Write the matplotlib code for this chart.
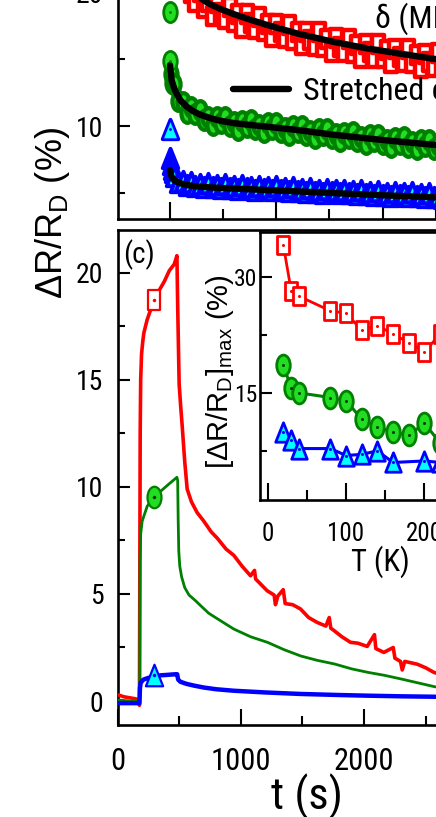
import numpy as np
import matplotlib
matplotlib.use("Agg")
import matplotlib.pyplot as plt
from matplotlib import font_manager
from matplotlib.path import Path
from matplotlib.lines import Line2D
from matplotlib.ticker import MultipleLocator

# the original figure is horizontally squeezed -> use an Arial-like narrow face if one is installed
rank = ['liberation', 'arial', 'roboto', 'noto', 'opensans', 'open', 'lato', 'inter']
narrow, best = None, len(rank)
for f in font_manager.fontManager.ttflist:
    fn = f.fname.lower().replace(' ', '')
    if f.style != 'normal' or f.weight not in (400, 'normal', 'regular'):
        continue
    if not ('narrow' in fn or 'condensed' in fn) or any(s in fn for s in ('semi', 'extra', 'ultra')):
        continue
    for i, key in enumerate(rank):
        if key in fn.split('/')[-1] and i < best:
            narrow, best = f, i
if narrow is not None:
    plt.rcParams['font.family'] = [narrow.name, 'Liberation Sans', 'DejaVu Sans']
    plt.rcParams['font.stretch'] = narrow.stretch
    FS = 1.0
else:
    plt.rcParams['font.family'] = ['Liberation Sans', 'DejaVu Sans']
    FS = 0.88
plt.rcParams['axes.linewidth'] = 1.9
# rotated labels are not squeezed along their length -> regular width face
ROT = dict(family=['Liberation Sans', 'DejaVu Sans'], stretch='normal')

W, H = 436, 817

# top panel: decay after light off (t' in s), data + stretched exponential fit
red_t = [0, 40, 80, 120, 160, 200, 240, 280, 320, 360, 400, 440, 480, 520, 560, 600, 640, 680, 720,
         760, 800, 840, 880, 920, 960, 1000, 1040, 1080, 1120, 1160, 1200, 1240, 1280, 1320, 1360,
         1400, 1440, 1480, 1520, 1560, 1600, 1640, 1680, 1720, 1760, 1800, 1840, 1880, 1920, 1960,
         2000, 2040, 2080, 2120, 2160, 2200, 2240, 2280, 2320, 2360, 2400, 2440, 2480, 2520, 2560, 2600]
red_dec = [34.0, 23.25, 22.4, 20.5, 20.9, 19.95, 19.25, 20.0, 18.8, 19.28, 18.2, 19.15, 18.47, 18.0,
           18.92, 17.8, 18.34, 17.33, 18.33, 17.67, 17.23, 18.17, 17.07, 17.63, 16.64, 17.65, 17.02,
           16.58, 17.55, 16.45, 17.0, 16.03, 17.05, 16.43, 16.0, 16.98, 15.9, 16.48, 15.5, 16.55,
           15.93, 15.52, 16.5, 15.44, 16.03, 15.07, 16.11, 15.51, 15.11, 16.11, 15.05, 15.65, 14.7,
           15.75, 15.15, 14.75, 15.75, 14.7, 15.3, 14.35, 15.4, 14.81, 14.42, 15.43, 14.39, 15.0]
gb_t = [0, 4, 10, 20, 30, 40, 80, 120, 160, 200, 240, 280, 320, 360, 400, 440, 480, 520, 560, 600,
        640, 680, 720, 760, 800, 840, 880, 920, 960, 1000, 1040, 1080, 1120, 1160, 1200, 1240, 1280,
        1320, 1360, 1400, 1440, 1480, 1520, 1560, 1600, 1640, 1680, 1720, 1760, 1800, 1840, 1880,
        1920, 1960, 2000, 2040, 2080, 2120, 2160, 2200, 2240, 2280, 2320, 2360, 2400, 2440, 2480,
        2520, 2560, 2600]
green_dec = [18.5, 14.85, 13.9, 13.2, 13.1, 13.15, 11.85, 11.8, 10.98, 11.45, 10.87, 11.21, 10.45,
             10.69, 10.1, 10.71, 10.24, 10.68, 9.97, 10.27, 9.73, 10.4, 9.96, 10.42, 9.74, 10.05, 9.52,
             10.19, 9.75, 10.22, 9.53, 9.85, 9.32, 9.98, 9.55, 10.01, 9.32, 9.63, 9.09, 9.75, 9.3,
             9.76, 9.07, 9.38, 8.85, 9.51, 9.08, 9.54, 8.86, 9.17, 8.64, 9.31, 8.87, 9.34, 8.66, 8.98,
             8.45, 9.11, 8.68, 9.15, 8.47, 8.79, 8.26, 8.93, 8.5, 8.97, 8.3, 8.62, 8.1, 8.77]
blue_dec = [9.8, 7.6, 7.2, 6.8, 6.55, 6.25, 5.83, 5.87, 5.6, 5.84, 5.56, 5.67, 5.45, 5.73, 5.46, 5.59,
            5.38, 5.66, 5.4, 5.53, 5.32, 5.6, 5.34, 5.48, 5.26, 5.55, 5.28, 5.42, 5.2, 5.49, 5.22, 5.36,
            5.15, 5.43, 5.17, 5.3, 5.09, 5.38, 5.11, 5.25, 5.03, 5.32, 5.06, 5.19, 4.98, 5.26, 5.0, 5.13,
            4.92, 5.2, 4.94, 5.07, 4.86, 5.15, 4.88, 5.02, 4.81, 5.1, 4.83, 4.97, 4.76, 5.05, 4.79,
            4.92, 4.71, 5.0, 4.73, 4.87, 4.66, 4.95]

fit_t = [0, 16, 40, 63, 100, 157, 220, 282, 376, 470, 600, 750, 910, 1200, 1537, 1850, 2164, 2477, 2800]
red_fit = [26.5, 25.0, 23.8, 22.9, 21.8, 20.6, 20.0, 19.55, 19.1, 18.75, 18.35, 17.95, 17.55, 16.9,
           16.28, 15.8, 15.4, 15.02, 14.7]
green_fit = [14.55, 13.4, 12.8, 12.4, 11.9, 11.45, 11.1, 10.85, 10.6, 10.4, 10.22, 10.08, 9.95, 9.7,
             9.35, 9.08, 8.83, 8.6, 8.4]
blue_fit = [6.7, 6.2, 5.95, 5.85, 5.72, 5.6, 5.52, 5.47, 5.42, 5.38, 5.33, 5.28, 5.22, 5.12, 5.0,
            4.88, 4.78, 4.68, 4.6]

# panel (c): time traces
trace_red_t = [0, 50, 100, 150, 170, 178, 181, 184, 188, 195, 205, 214, 240, 270, 300, 340, 380, 420,
               460, 482, 488, 495, 500, 512, 524, 545, 565, 600, 646, 700, 760, 810, 880, 944, 1010,
               1079, 1111, 1120, 1214, 1270, 1281, 1300, 1344, 1360, 1420, 1484, 1550, 1620, 1690,
               1717, 1730, 1754, 1820, 1890, 1950, 2025, 2084, 2095, 2160, 2236, 2250, 2295, 2309,
               2330, 2431, 2500, 2565, 2640, 2800, 3000]
trace_red = [0.3, 0.2, 0.15, 0.1, 0.0, -0.2, 6.0, 12.5, 15.0, 16.2, 16.8, 17.2, 17.8, 18.3, 18.7, 19.2,
             19.6, 20.1, 20.4, 20.8, 18.5, 16.3, 14.8, 13.8, 12.9, 11.2, 9.9, 9.3, 8.8, 8.4, 7.9, 7.6,
             7.1, 6.8, 6.3, 5.85, 6.1, 5.7, 5.15, 4.95, 4.5, 4.9, 5.2, 4.55, 4.5, 4.3, 3.9, 3.67, 3.5,
             3.9, 3.4, 3.3, 3.0, 2.74, 2.7, 2.55, 3.1, 2.45, 2.27, 2.5, 2.0, 1.85, 1.45, 1.85, 1.72,
             1.55, 1.34, 1.2, 1.05, 0.9]
trace_green_t = [0, 100, 175, 180, 183, 188, 200, 241, 300, 360, 420, 482, 488, 492, 497, 505, 520,
                 545, 580, 630, 675, 740, 808, 944, 1080, 1217, 1350, 1488, 1620, 1760, 1900, 2030,
                 2165, 2300, 2435, 2570, 2700, 3000]
trace_green = [0.05, 0.0, 0.0, 0.05, 6.5, 7.8, 8.4, 9.1, 9.55, 9.85, 10.15, 10.45, 10.3, 8.5, 7.0,
               6.3, 5.8, 5.3, 4.95, 4.7, 4.45, 4.1, 3.85, 3.36, 3.0, 2.74, 2.4, 2.1, 1.9, 1.73, 1.5,
               1.34, 1.2, 1.03, 0.85, 0.67, 0.55, 0.4]
trace_blue_t = [0, 100, 178, 182, 188, 210, 250, 300, 350, 400, 470, 484, 492, 510, 560, 620, 700,
                800, 944, 1200, 1484, 1800, 2025, 2300, 2565, 2700, 3000]
trace_blue = [-0.1, -0.1, -0.1, 0.6, 0.85, 1.0, 1.08, 1.15, 1.2, 1.22, 1.25, 1.25, 1.0, 0.9, 0.8,
              0.72, 0.63, 0.55, 0.48, 0.4, 0.33, 0.28, 0.25, 0.22, 0.2, 0.19, 0.17]
mark_t = [300]
mark_red = [18.75]
mark_green = [9.55]
mark_blue = [1.2]

# inset: max response vs temperature
T_red = [20, 30, 40, 80, 100, 120, 140, 160, 180, 200, 220]
max_red = [34.1, 28.2, 27.5, 25.6, 25.3, 23.1, 23.7, 22.6, 21.5, 20.3, 22.6]
T_green = [20, 30, 40, 80, 100, 120, 140, 160, 180, 200, 220]
max_green = [18.6, 15.6, 15.0, 14.4, 14.0, 11.6, 10.6, 9.9, 9.5, 11.1, 8.5]
T_blue = [20, 30, 40, 80, 100, 120, 140, 160, 200, 220]
max_blue = [10.0, 8.9, 7.8, 7.8, 6.9, 7.05, 7.5, 6.0, 6.2, 6.0]

RED, GREEN, BLUE = '#ff0000', '#008000', '#0000ff'
LGREEN, CYAN = '#22dd22', '#00ffff'

# squeezed marker shapes
circ = Path.unit_circle()
ELL = Path(circ.vertices * [0.65, 1.0], circ.codes)
SQR = Path([[-0.65, -1], [0.65, -1], [0.65, 1], [-0.65, 1], [-0.65, -1]], closed=True)
TRI = Path([[0, 1], [-0.8, -1], [0.8, -1], [0, 1]], closed=True)


def fr(x0, y0, x1, y1):
    # pixel box (top-left origin) -> figure fraction [l, b, w, h]
    return [x0 / W, 1 - y1 / H, (x1 - x0) / W, (y1 - y0) / H]


def style_ticks(ax, xl=17, xs=10, yl=12, ys=7):
    ax.tick_params(which='both', direction='in', width=1.5, top=False, right=False)
    ax.tick_params(axis='x', which='major', length=xl * 0.72)
    ax.tick_params(axis='x', which='minor', length=xs * 0.72)
    ax.tick_params(axis='y', which='major', length=yl * 0.72)
    ax.tick_params(axis='y', which='minor', length=ys * 0.72)


def dots(ax, x, y, color, ms=2.5):
    ax.plot(x, y, 'o', ms=ms, color=color, mec='none', zorder=6)


fig = plt.figure(figsize=(W / 100, H / 100), dpi=100)

# ---- top panel
ax1 = fig.add_axes(fr(118, -70, 600, 219))
ax1.set_xlim(-489, 4045)
ax1.set_ylim(3.06, 24.63)
ax1.plot(red_t, red_dec, ls='none', marker=SQR, ms=13.5, mfc='white', mec=RED, mew=3.2, zorder=2)
ax1.plot(gb_t, green_dec, ls='none', marker=ELL, ms=13.5, mfc=LGREEN, mec=GREEN, mew=3.0, zorder=2)
ax1.plot(gb_t, blue_dec, ls='none', marker=TRI, ms=14, mfc=CYAN, mec=BLUE, mew=2.8, zorder=2)
ax1.plot(gb_t[:2], green_dec[:2], ls='none', marker=ELL, ms=13.5, mfc=LGREEN, mec=GREEN, mew=1.0, zorder=3)
ax1.plot(gb_t[:1], blue_dec[:1], ls='none', marker=TRI, ms=14, mfc=CYAN, mec=BLUE, mew=1.3, zorder=3)
dots(ax1, gb_t[:2], green_dec[:2], GREEN, 2)
dots(ax1, gb_t[:1], blue_dec[:1], BLUE, 2)
for fit in (red_fit, green_fit, blue_fit):
    ax1.plot(fit_t, fit, color='black', lw=4.6, solid_capstyle='round', zorder=4)
ax1.xaxis.set_major_locator(MultipleLocator(1000))
ax1.xaxis.set_minor_locator(MultipleLocator(500))
ax1.yaxis.set_major_locator(MultipleLocator(10))
ax1.yaxis.set_minor_locator(MultipleLocator(5))
style_ticks(ax1)
ax1.tick_params(axis='x', labelbottom=False)
ax1.tick_params(axis='y', labelsize=20 * FS, pad=10.5)
fit_handle = Line2D([], [], color='black', lw=4.6, solid_capstyle='round')
ax1.legend([fit_handle], ['Stretched exponential fit'], loc='center left',
           bbox_to_anchor=(233 / W, 1 - 91 / H), bbox_transform=fig.transFigure,
           frameon=False, fontsize=23 * FS, handlelength=1.75 / FS, handletextpad=0.45,
           borderpad=0, borderaxespad=0)
fig.text(375 / W, 1 - 28 / H, 'δ (ML)', fontsize=23 * FS, ha='left', va='baseline')

# ---- panel (c)
ax2 = fig.add_axes(fr(117.5, 230, 600, 725))
ax2.set_xlim(0, 3913)
ax2.set_ylim(-1.12, 22.0)
ax2.plot(trace_red_t, trace_red, color=RED, lw=2.6, zorder=3)
ax2.plot(trace_green_t, trace_green, color=GREEN, lw=2.0, zorder=3)
ax2.plot(trace_blue_t, trace_blue, color=BLUE, lw=3.2, zorder=3)
ax2.plot(mark_t, mark_red, ls='none', marker=SQR, ms=14, mfc='white', mec=RED, mew=1.6, zorder=5)
ax2.plot(mark_t, mark_green, ls='none', marker=ELL, ms=15.5, mfc=LGREEN, mec=GREEN, mew=1.6, zorder=5)
ax2.plot(mark_t, mark_blue, ls='none', marker=TRI, ms=15.5, mfc=CYAN, mec=BLUE, mew=1.6, zorder=5)
dots(ax2, mark_t, mark_red, RED)
dots(ax2, mark_t, mark_green, '#004000')
dots(ax2, mark_t, mark_blue, BLUE)
ax2.xaxis.set_major_locator(MultipleLocator(1000))
ax2.xaxis.set_minor_locator(MultipleLocator(500))
ax2.yaxis.set_major_locator(MultipleLocator(5))
ax2.yaxis.set_minor_locator(MultipleLocator(2.5))
style_ticks(ax2, xl=16, xs=9)
ax2.tick_params(axis='x', labelsize=22 * FS, pad=15.5)
ax2.tick_params(axis='y', labelsize=20 * FS, pad=10)
fig.text(139 / W, 1 - 255 / H, '(c)', fontsize=21 * FS, ha='center', va='center')
fig.text(307 / W, 1 - 797 / H, 't (s)', fontsize=32 * FS, ha='center', va='center')
fig.text(52 / W, 1 - 213 / H, r'ΔR/R$\mathregular{_D}$ (%)', fontsize=26,
         rotation=90, ha='center', va='center', **ROT)

# ---- inset
ax3 = fig.add_axes(fr(260, 232, 600, 500))
ax3.set_xlim(-9.8, 424)
ax3.set_ylim(1.15, 35.8)
ax3.plot(T_red, max_red, color=RED, lw=2.0, marker=SQR, ms=13, mfc='white', mec=RED, mew=2.0, zorder=3)
ax3.plot(T_green, max_green, color=GREEN, lw=2.2, marker=ELL, ms=15, mfc=LGREEN, mec=GREEN, mew=2.0, zorder=3)
ax3.plot(T_blue, max_blue, color=BLUE, lw=2.2, marker=TRI, ms=14, mfc=CYAN, mec=BLUE, mew=2.0, zorder=3)
dots(ax3, T_red, max_red, RED, 2.2)
dots(ax3, T_green, max_green, '#004000', 2.2)
dots(ax3, T_blue, max_blue, BLUE, 2.2)
ax3.xaxis.set_major_locator(MultipleLocator(100))
ax3.xaxis.set_minor_locator(MultipleLocator(50))
ax3.yaxis.set_major_locator(MultipleLocator(15))
ax3.yaxis.set_minor_locator(MultipleLocator(7.5))
style_ticks(ax3, xl=17, xs=10)
ax3.tick_params(axis='x', labelsize=18 * FS, pad=15.5)
ax3.tick_params(axis='y', labelsize=17 * FS, pad=2)
fig.text(380 / W, 1 - 562 / H, 'T (K)', fontsize=22 * FS, ha='center', va='center')
fig.text(220 / W, 1 - 372 / H, r'[ΔR/R$\mathregular{_D}$]$\mathregular{_{max}}$ (%)', fontsize=21,
         rotation=90, ha='center', va='center', **ROT)

fig.savefig('out.png', dpi=100)
